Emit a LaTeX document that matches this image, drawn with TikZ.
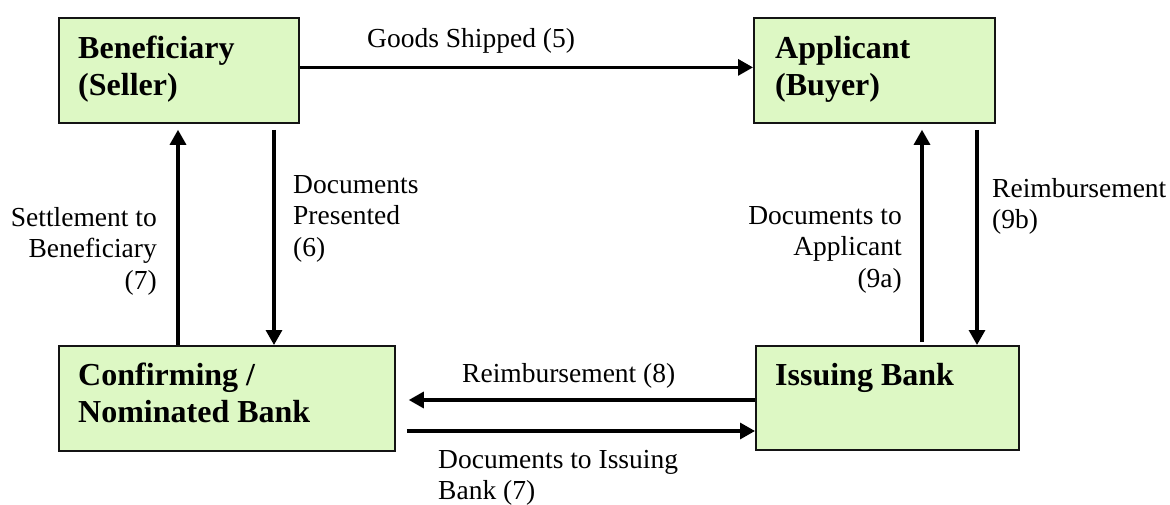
\documentclass[tikz,border=0pt]{standalone}
\usepackage{fontspec}
\setmainfont{Liberation Serif}
\usetikzlibrary{arrows.meta,calc}
\definecolor{boxfill}{RGB}{221,248,196}
\definecolor{boxline}{RGB}{20,20,20}
\tikzset{
  party/.style={draw=boxline, line width=1.8pt, fill=boxfill, inner sep=0pt, anchor=north west},
  boxtext/.style={anchor=base west, align=left, inner sep=0pt, font=\fontsize{32}{37}\selectfont\bfseries},
  lbl/.style={inner sep=0pt, font=\fontsize{27.5}{31.5}\selectfont},
  arr/.style={line width=3.2pt, -{Triangle[length=15pt,width=16pt]}},
}
\begin{document}
\begin{tikzpicture}[x=1pt,y=-1pt]
\useasboundingbox (0,0) rectangle (1170,504);
% boxes
\node[party, minimum width=240pt, minimum height=105pt] (ben) at (58,17) {};
\node[party, minimum width=241pt, minimum height=105pt] (app) at (753,17) {};
\node[party, minimum width=336pt, minimum height=105pt] (conf) at (58,345) {};
\node[party, minimum width=263pt, minimum height=104pt] (iss) at (755,345) {};
% box texts (base anchor = baseline of last line)
\node[boxtext] (benT) at (78,95) {Beneficiary\\(Seller)};
\node[boxtext] (appT) at (775,95) {Applicant\\(Buyer)};
\node[boxtext] (confT) at (78,422) {Confirming /\\Nominated Bank};
\node[boxtext] (issT) at (775,385) {Issuing Bank};
% connectors
\draw[arr] ([yshift=3pt]ben.east) -- ([yshift=3pt]ben.east -| app.west);
\draw[arr] ($(conf.north west)+(120,0)$) -- ($(ben.south west)+(120,6)$);
\draw[arr] ($(ben.south west)+(216,6)$) -- ($(conf.north west)+(216,0)$);
\draw[arr] ($(iss.north west)+(167,-3)$) -- ($(app.south west)+(169,6)$);
\draw[arr] ($(app.south west)+(224,6)$) -- ($(iss.north west)+(222,0)$);
\draw[arr] ($(iss.north west)+(0,55)$) -- ($(conf.north east)+(13,55)$);
\draw[arr] ($(conf.north east)+(11,86)$) -- ($(iss.north west)+(0,86)$);
% labels
\node[lbl, anchor=base west] (l5) at (367,47) {Goods Shipped (5)};
\node[lbl, anchor=base west, align=left] (l6) at (293,256) {Documents\\Presented\\(6)};
\node[lbl, anchor=base east, align=right] (l7a) at (157,289) {Settlement to\\Beneficiary\\(7)};
\node[lbl, anchor=base east, align=right] (l9a) at (902,287) {Documents to\\Applicant\\(9a)};
\node[lbl, anchor=base west, align=left] (l9b) at (992,228.5) {Reimbursement\\(9b)};
\node[lbl, anchor=base west] (l8) at (462,382) {Reimbursement (8)};
\node[lbl, anchor=base west, align=left] (l7b) at (438,499.5) {Documents to Issuing\\Bank (7)};
\end{tikzpicture}
\end{document}
